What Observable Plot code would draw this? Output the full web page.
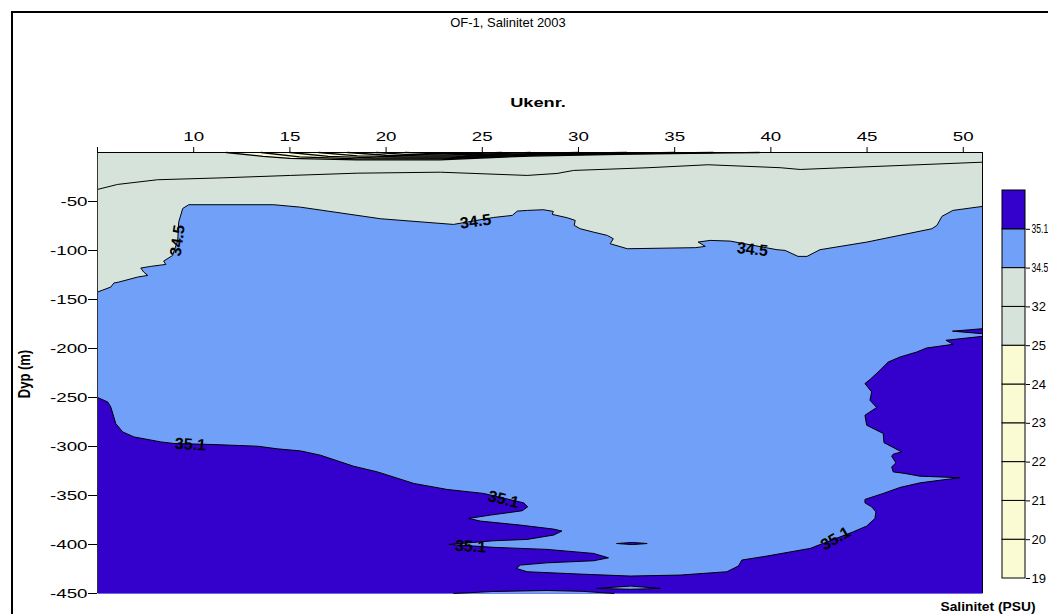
<!DOCTYPE html>
<html lang="no">
<head>
<meta charset="utf-8">
<title>OF-1, Salinitet 2003</title>
<script src="https://cdn.jsdelivr.net/npm/d3@7"></script>
<script src="https://cdn.jsdelivr.net/npm/@observablehq/plot@0.6"></script>
<style>
  html, body { margin: 0; padding: 0; background: #fff; overflow: hidden; }
  #page { position: relative; width: 1048px; height: 614px; overflow: hidden; background: #fff;
          font-family: "Liberation Sans", Arial, sans-serif; color: #000; }
  #page svg { position: absolute; }
  #frame { position: absolute; left: 11px; top: 11px; width: 1100px; height: 700px;
           border: 2px solid #000; box-sizing: border-box; pointer-events: none; }
  .txt { position: absolute; white-space: nowrap; line-height: 1; }
</style>
</head>
<body>
<div id="page">
  <div id="frame"></div>
  <div class="txt" style="left:508px;top:22px;font-size:13px;transform:translate(-50%,-50%)">OF-1, Salinitet 2003</div>
  <div class="txt" style="left:538px;top:102px;font-size:13px;font-weight:bold;transform:translate(-50%,-50%) scaleX(1.4)">Ukenr.</div>
  <div class="txt" style="left:24px;top:374px;font-size:13px;font-weight:bold;transform:translate(-50%,-50%) rotate(-90deg) scale(1,1.3)">Dyp (m)</div>
  <div class="txt" style="left:988px;top:607px;font-size:12px;font-weight:bold;transform:translate(-50%,-50%) scaleX(1.15)">Salinitet (PSU)</div>
</div>
<script>
// Fill colours of the salinity classes
const DARK = "#3300cc";   // > 35.1
const LIGHT = "#70a0f8";  // 34.5 – 35.1
const SAGE = "#d6e3da";   // 25 – 34.5
const CREAM = "#fbfbd3";  // < 25

const weekTicks = [10, 15, 20, 25, 30, 35, 40, 45, 50];
const depthTicks = [-50, -100, -150, -200, -250, -300, -350, -400, -450];

// Isohalines as [week, depth (m)]
const iso32 = [[5.0,-37.7],[6.04,-32.6],[8.12,-27.8],[11.57,-25.8],[15.04,-23.4],[18.5,-21.1],
  [22.82,-20.1],[27.33,-23.4],[28.88,-21.4],[29.75,-18.3],[33.56,-15.6],[36.74,-12.5],
  [40.48,-15.5],[41.52,-17.3],[51.0,-9.9]];

const iso345 = [[5.0,-142.4],[5.69,-137.3],[5.85,-133.2],[6.11,-132.2],[7.09,-127.1],[7.61,-125.4],
  [7.40,-122.0],[7.25,-117.9],[7.77,-116.2],[8.55,-114.2],[8.44,-110.8],[8.91,-105.0],[8.96,-101.6],
  [9.17,-89.7],[9.22,-71.1],[9.43,-57.1],[9.74,-53.3],[14.16,-53.3],[15.56,-55.8],[19.71,-67.6],
  [23.50,-73.4],[25.58,-66.3],[26.56,-64.2],[26.82,-59.8],[27.34,-59.1],[28.17,-58.4],[28.69,-60.1],
  [28.64,-63.2],[29.42,-66.6],[29.83,-69.3],[29.78,-74.4],[30.09,-77.8],[30.77,-81.2],[31.50,-84.6],
  [31.81,-88.0],[31.65,-93.1],[32.54,-98.2],[36.07,-97.1],[36.59,-95.8],[36.22,-91.4],[36.84,-89.7],
  [37.88,-90.4],[40.32,-99.2],[40.74,-99.9],[41.41,-106.0],[41.88,-106.0],[42.55,-99.2],[44.99,-91.4],
  [48.37,-77.8],[48.63,-74.4],[48.89,-65.2],[49.46,-59.1],[51.0,-55.0]];

const iso351 = [[5.0,-250.0],[5.53,-254.5],[5.69,-259.6],[5.95,-276.6],[6.31,-285.1],[6.89,-290.2],
  [8.29,-295.3],[8.96,-296.9],[11.04,-298.0],[13.32,-299.7],[14.36,-302.4],[15.56,-304.5],
  [16.59,-308.9],[18.31,-320.1],[19.55,-325.9],[21.44,-337.7],[23.17,-343.8],[25.07,-347.9],
  [27.15,-357.5],[27.36,-361.6],[27.07,-365.6],[25.42,-370.0],[24.29,-373.4],[24.90,-376.1],
  [26.98,-380.2],[28.71,-384.3],[29.14,-386.3],[28.71,-390.4],[27.33,-394.8],[25.59,-396.2],
  [23.26,-399.9],[25.59,-402.9],[28.36,-405.0],[30.78,-409.1],[31.56,-413.6],[30.78,-416.6],
  [28.36,-418.7],[26.98,-421.0],[26.77,-424.4],[27.33,-427.8],[30.09,-430.2],[32.69,-432.2],
  [35.29,-431.2],[37.71,-427.8],[38.31,-422.0],[38.49,-415.9],[39.79,-411.8],[42.04,-404.0],
  [44.28,-387.1],[44.98,-381.2],[45.41,-373.4],[45.46,-366.7],[45.24,-361.6],[44.89,-357.5],
  [44.89,-354.0],[45.84,-347.9],[46.71,-341.8],[47.75,-337.1],[49.82,-331.8],[47.75,-330.3],
  [46.97,-327.5],[46.36,-325.9],[46.28,-320.8],[46.50,-316.7],[46.28,-309.9],[46.36,-307.8],
  [46.80,-305.5],[45.88,-296.1],[45.84,-286.7],[44.98,-278.3],[44.89,-268.1],[45.50,-260.2],
  [45.15,-252.8],[45.24,-244.3],[44.89,-235.8],[45.15,-231.7],[45.67,-222.2],[46.10,-213.8],
  [46.71,-208.7],[47.58,-203.6],[48.09,-199.5],[49.48,-195.7],[49.10,-191.6],[51.0,-187.6]];

// Small closed 35.1 features
const iso351Wedge = [[51.0,-179.8],[49.44,-182.3],[51.0,-184.9]];
const iso351Lens = [[32.0,-399.0],[32.8,-397.9],[33.57,-399.0],[32.8,-400.1],[32.0,-399.0]];
// Pockets below 35.1 inside the deep water
const pocketA = [[30.97,-444.8],[32.7,-442.4],[34.26,-444.8],[32.7,-445.7],[30.97,-444.8]];
const pocketB = [[23.52,-450.0],[25.5,-448.0],[28.37,-446.9],[30.2,-447.8],[31.84,-450.0]];

// Brackish surface layer, isohalines 25 down to 19
const iso25 = [[11.7,0],[13.6,-4.0],[15.0,-6.0],[18.5,-7.6],[22.8,-7.6],[24.9,-5.6],[27.5,-3.6],[32.7,-1.6],[37.9,-0.4],[39.4,0]];
const iso24 = [[13.5,0],[15.5,-4.5],[18.5,-6.5],[23.0,-6.6],[25.2,-4.6],[28.0,-2.6],[33.0,-1.0],[37.0,0]];
const iso23 = [[15.0,0],[17.0,-4.0],[19.5,-5.4],[23.2,-5.6],[25.4,-3.8],[28.5,-1.8],[33.5,-0.4],[35.0,0]];
const iso22 = [[16.5,0],[18.5,-3.4],[21.0,-4.5],[23.5,-4.5],[25.6,-2.8],[29.0,-1.0],[32.5,0]];
const iso21 = [[18.0,0],[20.0,-2.8],[22.0,-3.5],[24.0,-3.4],[26.0,-1.8],[30.0,0]];
const iso20 = [[19.5,0],[21.0,-2.0],[23.0,-2.5],[25.0,-1.8],[27.5,0]];
const iso19 = [[21.0,0],[22.5,-1.2],[24.5,-1.0],[26.0,0]];

// Contour labels
const labelText = ["34.5", "34.5", "34.5", "35.1", "35.1", "35.1", "35.1"];
const labelWeek = [9.16, 24.65, 39.04, 9.83, 26.1, 24.39, 43.36];
const labelDepth = [-89.8, -70.4, -99.0, -298, -354, -402, -394];
const labelAngle = [-82, -8, 6, 3, 14, 3, -30];

// Colour key: level at the lower edge of each band, bottom to top
const legendLevels = ["19", "20", "21", "22", "23", "24", "25", "32", "34.5", "35.1"];
const legendColors = [CREAM, CREAM, CREAM, CREAM, CREAM, CREAM, SAGE, SAGE, LIGHT, DARK];

const WEEK0 = 5, WEEK1 = 51, DEPTH0 = -450;
const xy = {x: d => d[0], y: d => d[1]};
const toBottom = pts => pts.concat([[WEEK1, DEPTH0], [WEEK0, DEPTH0]]);
const region = (pts, fill) => Plot.line(pts, {...xy, fill, stroke: "none", curve: "linear"});
const contour = (pts, w = 1) => Plot.line(pts, {...xy, stroke: "#000", strokeWidth: w, curve: "linear"});

const chart = Plot.plot({
  width: 1048,
  height: 614,
  marginLeft: 97,
  marginRight: 66,
  marginTop: 152,
  marginBottom: 21,
  x: {domain: [WEEK0, WEEK1]},
  y: {domain: [DEPTH0, 0]},
  style: {background: "none", fontFamily: "'Liberation Sans', Arial, sans-serif", fontSize: "12.5px", color: "#000"},
  marks: [
    Plot.rect([0], {x1: () => WEEK0, x2: () => WEEK1, y1: () => DEPTH0, y2: () => 0, fill: SAGE}),
    region(toBottom(iso345), LIGHT),
    region(toBottom(iso351), DARK),
    region(iso351Wedge, DARK),
    region(iso351Lens, DARK),
    region(pocketA, LIGHT),
    region(pocketB, LIGHT),
    region(iso25, CREAM),
    contour(iso32),
    contour(iso345),
    contour(iso351),
    contour(iso351Wedge),
    contour(iso351Lens),
    contour(pocketA),
    contour(pocketB),
    contour(iso25, 1.3), contour(iso24, 1.3), contour(iso23, 1.3), contour(iso22, 1.3),
    contour(iso21, 1.3), contour(iso20, 1.3), contour(iso19, 1.3),
    Plot.ruleY([0], {stroke: "#000"}),
    Plot.ruleX([WEEK0], {stroke: "#333"}),
    Plot.ruleX([WEEK1], {stroke: "#000"}),
    Plot.axisX({anchor: "top", ticks: [WEEK0, ...weekTicks], tickFormat: d => (d === WEEK0 ? "" : String(d)),
      tickSize: 6, tickPadding: 6, label: null, fontSize: 12.5}),
    Plot.axisY({anchor: "left", ticks: depthTicks, tickFormat: d => String(d),
      tickSize: 9, tickPadding: 1, label: null, fontSize: 12.5}),
    Plot.text(labelText, {
      x: (d, i) => labelWeek[i], y: (d, i) => labelDepth[i], rotate: (d, i) => labelAngle[i],
      text: d => d, fontSize: 16, fontWeight: "bold", fill: "#000", ariaLabel: "contour label"
    })
  ]
});

const bands = legendLevels.map((level, i) => ({lo: i, hi: i + 1, color: legendColors[i]}));
const key = Plot.plot({
  width: 80,
  height: 410,
  marginTop: 10,
  marginBottom: 12,
  marginLeft: 12,
  marginRight: 45,
  x: {domain: [0, 1], axis: null},
  y: {domain: [0, 10]},
  color: {type: "identity"},
  style: {background: "none", fontFamily: "'Liberation Sans', Arial, sans-serif", fontSize: "13px", color: "#000"},
  marks: [
    Plot.rect(bands, {x1: () => 0, x2: () => 1, y1: "lo", y2: "hi", fill: "color", stroke: "#000", strokeWidth: 1}),
    Plot.axisY({anchor: "right", ticks: d3.range(legendLevels.length), tickFormat: i => legendLevels[i],
      tickSize: 4, tickPadding: 2, label: null, fontSize: 13})
  ]
});

// Horizontal scaling of text glyphs
function widen(root, selector, sx, filter = () => true) {
  root.querySelectorAll(selector).forEach(t => {
    if (!filter(t)) return;
    const tr = t.getAttribute("transform");
    if (tr) t.setAttribute("transform", `${tr} scale(${sx},1)`);
    else {
      const x = parseFloat(t.getAttribute("x")) || 0;
      t.removeAttribute("x");
      t.setAttribute("transform", `translate(${x},0) scale(${sx},1)`);
    }
  });
}
widen(chart, 'g[aria-label="x-axis tick label"] text', 1.5);
widen(chart, 'g[aria-label="y-axis tick label"] text', 1.5);
widen(chart, 'g[aria-label="contour label"] text', 1.15);
// the two decimal key labels are narrowed to fit the page edge
widen(key, 'g[aria-label="y-axis tick label"] text', 0.66, t => t.textContent.length > 2);

const page = document.getElementById("page");
chart.style.left = "0px";
chart.style.top = "0px";
key.style.left = "990px";
key.style.top = "180px";
page.insertBefore(chart, page.firstChild);
page.appendChild(key);
</script>
</body>
</html>
